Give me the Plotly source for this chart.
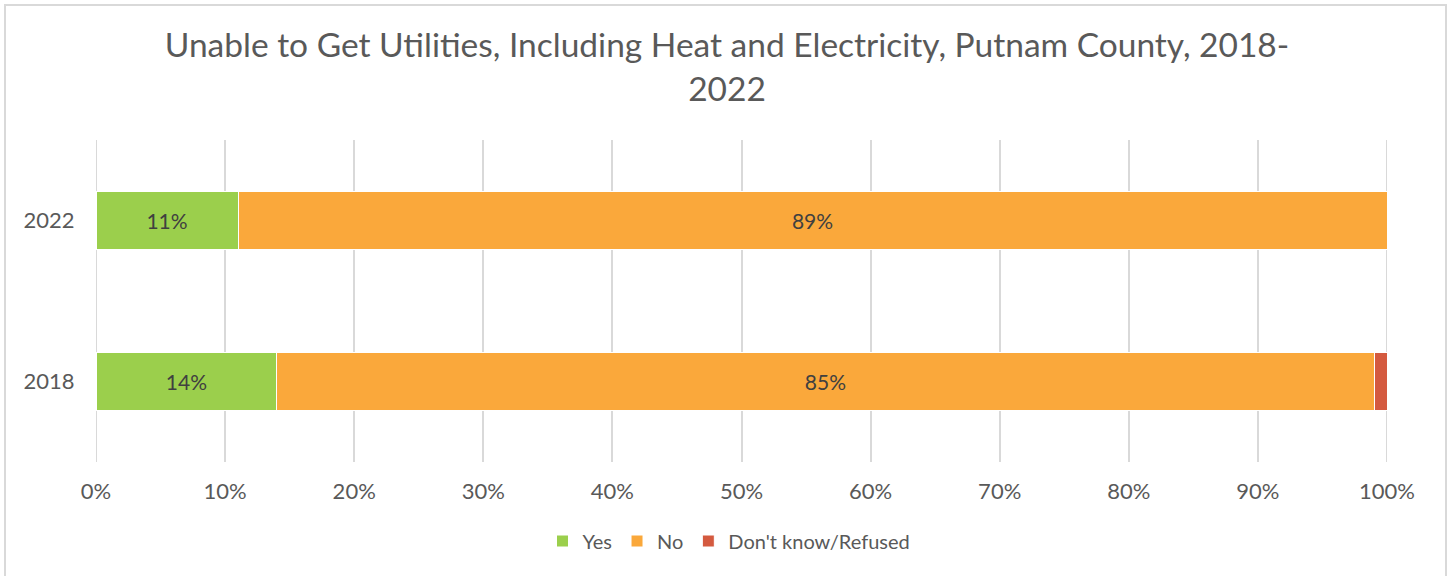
import plotly.graph_objects as go

years = ["2018", "2022"]
yes_vals = [14, 11]
no_vals = [85, 89]
dk_vals = [1, 0]
x_ticks = [0, 10, 20, 30, 40, 50, 60, 70, 80, 90, 100]

W, H = 1449, 576
L, R, T, B = 96, 62, 140, 114
pw, ph = W - L - R, H - T - B

def px_to_paper_x(px):
    return (px - L) / pw

def py_to_paper_y(py):
    return (H - B - py) / ph

FONT = "Lato"
GRAY = "#595959"

fig = go.Figure()
series = [
    ("Yes", yes_vals, "#9BCF4C", True),
    ("No", no_vals, "#FAA83B", True),
    ("Don't know/Refused", dk_vals, "#D45A3F", False),
]
for name, vals, color, show_lbl in series:
    fig.add_trace(go.Bar(
        y=years, x=vals, name=name, orientation="h",
        marker=dict(color=color, line=dict(color="white", width=1)),
        text=[f"{v}%" if show_lbl else "" for v in vals],
        textposition="inside", insidetextanchor="middle",
        textfont=dict(family=FONT, size=21, color="#404040"),
        hoverinfo="skip",
    ))

fig.update_layout(
    width=W, height=H,
    margin=dict(l=L, r=R, t=T, b=B, autoexpand=False),
    barmode="stack", bargap=0.645,
    plot_bgcolor="white", paper_bgcolor="white",
    font=dict(family=FONT, color=GRAY),
    title=dict(
        text="Unable to Get Utilities, Including Heat and Electricity, Putnam County, 2018-<br>2022",
        x=727 / W, xanchor="center",
        y=1 - 57 / H, yanchor="top",
        font=dict(family=FONT, size=33.5, color=GRAY),
    ),
    xaxis=dict(
        range=[0, 100], tickvals=x_ticks,
        ticktext=[f"{v}%" for v in x_ticks],
        showgrid=True, gridcolor="#D9D9D9", gridwidth=2,
        zeroline=False, showline=False, ticks="outside", ticklen=10,
        tickcolor="rgba(0,0,0,0)", automargin=False,
        tickfont=dict(family=FONT, size=22, color=GRAY),
    ),
    yaxis=dict(
        showgrid=False, zeroline=False, showline=False,
        ticks="outside", ticklen=16, tickcolor="rgba(0,0,0,0)", automargin=False,
        tickfont=dict(family=FONT, size=22, color=GRAY),
    ),
    legend=dict(
        orientation="h", x=px_to_paper_x(729), xanchor="center",
        y=py_to_paper_y(541), yanchor="middle",
        font=dict(family=FONT, size=20, color=GRAY),
        itemwidth=30, traceorder="normal",
    ),
    uniformtext=dict(minsize=8, mode="show"),
)

for xv in (0, 100):
    fig.add_shape(
        type="line", xref="x", yref="paper", x0=xv, x1=xv, y0=0, y1=1,
        line=dict(color="#D9D9D9", width=2), layer="below",
    )

fig.add_shape(
    type="rect", xref="paper", yref="paper",
    x0=px_to_paper_x(5), x1=px_to_paper_x(1446),
    y0=py_to_paper_y(590), y1=py_to_paper_y(5),
    line=dict(color="#D9D9D9", width=2), fillcolor="rgba(0,0,0,0)", layer="below",
)

fig.write_html("out.html", config={"displayModeBar": False},
               post_script="document.body.style.margin='0';")
